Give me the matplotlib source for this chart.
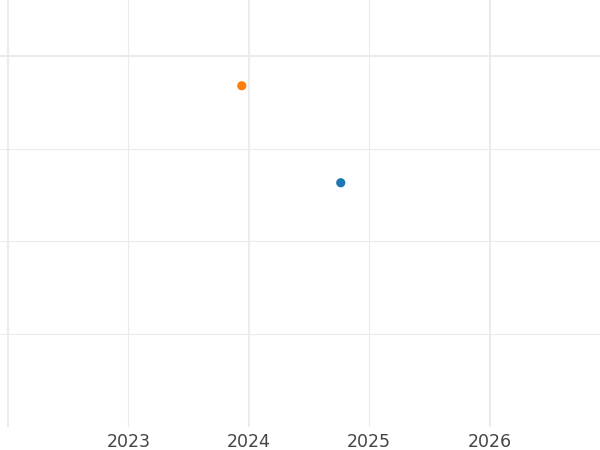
import matplotlib
matplotlib.use("Agg")
import matplotlib.pyplot as plt

# two points
xs = [2023.942, 2024.764]
ys = [3.678, 2.630]
colors = ["#ff7f0e", "#1f77b4"]

major_x = [2022, 2024, 2026]
major_x_labels = ["", "2024", "2026"]
minor_x = [2023, 2025]
minor_x_labels = ["2023", "2025"]
major_y = [4]
minor_y = [1, 2, 3]

fig = plt.figure(figsize=(6, 4.5), dpi=100)
ax = fig.add_axes([0, 1 - 427 / 450, 1, 427 / 450])

ax.scatter(xs, ys, c=colors, s=44, zorder=3, linewidths=0)

ax.set_xlim(2021.934, 2026.917)
ax.set_ylim(-0.01, 4.605)

ax.set_xticks(major_x)
ax.set_xticklabels(major_x_labels)
ax.set_xticks(minor_x, minor=True)
ax.set_xticklabels(minor_x_labels, minor=True)
ax.set_yticks(major_y)
ax.set_yticks(minor_y, minor=True)
ax.set_yticklabels([])
ax.set_yticklabels([], minor=True)

ax.grid(which="major", color="#ebebeb", linewidth=1.5)
ax.grid(which="minor", color="#ebebeb", linewidth=0.8)
ax.set_axisbelow(True)

ax.tick_params(which="both", length=0, pad=4, labelsize=12.5, labelcolor="#444444")
for s in ax.spines.values():
    s.set_visible(False)

fig.savefig("out.png", dpi=100)
